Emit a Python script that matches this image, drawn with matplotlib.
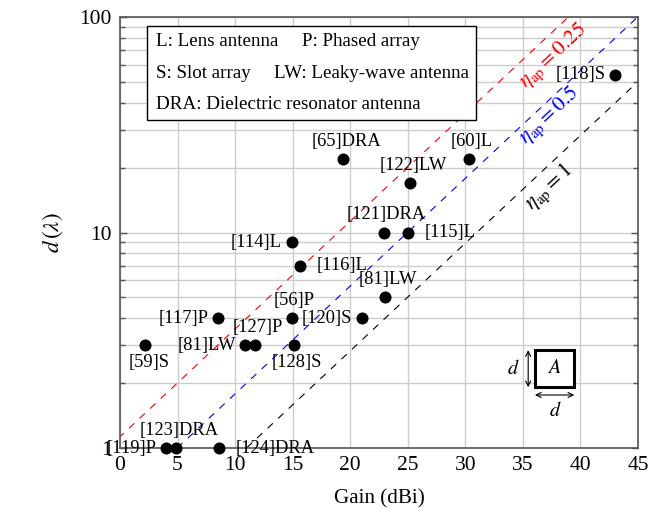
import numpy as np
import matplotlib
matplotlib.use("Agg")
import matplotlib.pyplot as plt
from matplotlib.patches import Rectangle

plt.rcParams['font.family'] = ['Liberation Serif', 'DejaVu Serif']
plt.rcParams['mathtext.fontset'] = 'stix'
plt.rcParams['font.size'] = 13.3

# ---------------- data ----------------
labels = ["[118]S", "[65]DRA", "[60]L", "[122]LW", "[121]DRA", "[115]L",
          "[114]L", "[116]L", "[81]LW", "[56]P", "[120]S", "[117]P",
          "[81]LW", "[127]P", "[128]S", "[59]S", "[119]P", "[123]DRA", "[124]DRA"]
gain_dbi = [43.0, 19.4, 30.3, 25.2, 22.9, 25.0,
            14.9, 15.6, 23.0, 14.9, 21.0, 8.5,
            10.9, 11.7, 15.1, 2.2, 4.0, 4.9, 8.6]
d_lambda = [54, 22, 22, 17, 10, 10,
            9, 7, 5, 4, 4, 4,
            3, 3, 3, 3, 1, 1, 1]
label_side = ["left", "above", "above", "above", "above", "right",
              "left", "right", "above", "above", "left", "left",
              "left", "above", "below", "below", "left", "above", "right"]

eta_values = [0.25, 0.5, 1.0]
eta_labels = ["0.25", "0.5", "1"]
eta_colors = ["#ff0000", "#0000ff", "#000000"]
eta_label_x = [37.65, 37.3, 37.3]
eta_label_d = [65.5, 34.8, 16.2]

x_ticks = [0, 5, 10, 15, 20, 25, 30, 35, 40, 45]
y_ticks = [1, 10, 100]
y_ticklabels = ["1", "10", "100"]

legend_lines = [("L: Lens antenna", "P: Phased array"),
                ("S: Slot array", "LW: Leaky-wave antenna"),
                ("DRA: Dielectric resonator antenna", None)]

# ---------------- figure ----------------
W, H = 657, 513
fig = plt.figure(figsize=(W / 100, H / 100), dpi=100)
ax = fig.add_axes([120 / W, 1 - 448 / H, 518 / W, 431 / H])
ax.set_xlim(0, 45)
ax.set_yscale('log')
ax.set_ylim(1, 100)

ax.set_xticks(x_ticks)
ax.set_xticklabels([str(t) for t in x_ticks], fontsize=15.5)
ax.set_yticks(y_ticks)
ax.set_yticklabels(y_ticklabels, fontsize=15.5)
ax.yaxis.set_minor_locator(matplotlib.ticker.LogLocator(base=10, subs=np.arange(2, 10)))
ax.yaxis.set_minor_formatter(matplotlib.ticker.NullFormatter())

gcol = '#cccccc'
ax.grid(True, which='major', axis='both', color=gcol, lw=1.0)
ax.grid(True, which='minor', axis='y', color=gcol, lw=1.0)
ax.set_axisbelow(True)

for s in ax.spines.values():
    s.set_color('#555555')
    s.set_linewidth(1.2)
ax.tick_params(which='both', direction='in', top=True, right=True, color='#555555')
ax.tick_params(which='major', length=5, width=1.0)
ax.tick_params(axis='y', which='major', pad=6)
ax.tick_params(axis='x', which='major', pad=6)
ax.tick_params(which='minor', length=3.5, width=1.0)
ax.tick_params(axis='x', which='both', top=False, bottom=False)

ax.text(0.5, -0.119, "Gain (dBi)", transform=ax.transAxes, ha='center', va='center',
        fontsize=15.2)
ax.text(-0.129, 0.5, r"$d\,(\lambda)$", transform=ax.transAxes, ha='center', va='center',
        rotation=90, fontsize=16.5)

# efficiency lines
dd = np.logspace(0, 2, 200)
for eta, col in zip(eta_values, eta_colors):
    g = 10 * np.log10(4 * np.pi) + 20 * np.log10(eta) + 20 * np.log10(dd)
    ax.plot(g, dd, color=col, lw=0.8, linestyle=(0, (6.5, 6.5)), zorder=2)

# rotation angle of lines in display space
fig.canvas.draw()
p1 = ax.transData.transform((10, 10 ** 0.5))
p2 = ax.transData.transform((30, 10 ** 1.5))
ang = np.degrees(np.arctan2(p2[1] - p1[1], p2[0] - p1[0]))

for lab, col, lx, ld in zip(eta_labels, eta_colors, eta_label_x, eta_label_d):
    ax.text(lx, ld, r"$\eta_{\mathrm{ap}} = " + lab + "$", color=col, rotation=ang,
            rotation_mode='anchor', ha='center', va='center', fontsize=15.5, zorder=3)

# points
ax.scatter(gain_dbi, d_lambda, s=75, color='black', zorder=5, clip_on=False, linewidths=0)

offsets = {"above": (2.2, 12.6, 'center', 'center'),
           "below": (2.4, -12.5, 'center', 'center'),
           "left": (-6.8, 0, 'right', 'center'),
           "right": (12.2, 0, 'left', 'center')}
for lab, x, y, side in zip(labels, gain_dbi, d_lambda, label_side):
    dx, dy, ha, va = offsets[side]
    ax.annotate(lab, (x, y), xytext=(dx, dy), textcoords='offset points',
                ha=ha, va=va, zorder=6, annotation_clip=False)

# legend box
ax.add_patch(Rectangle((0.0527, 0.761), 0.687 - 0.0527, 0.978 - 0.761,
                       transform=ax.transAxes, facecolor='white', edgecolor='black',
                       lw=1.0, zorder=7))
legend_y = [0.944, 0.869, 0.796]
second_x = [0.351, 0.298, None]
for (a, b), yy, sx in zip(legend_lines, legend_y, second_x):
    ax.text(0.0695, yy, a, transform=ax.transAxes, ha='left', va='center', zorder=8,
            fontsize=13.7)
    if b is not None:
        ax.text(sx, yy, b, transform=ax.transAxes, ha='left', va='center', zorder=8,
                fontsize=13.7)

# aperture inset
ax.add_patch(Rectangle((0.801, 0.141), 0.877 - 0.801, 0.227 - 0.141,
                       transform=ax.transAxes, facecolor='white', edgecolor='black',
                       lw=2.2, zorder=7))
ax.text(0.839, 0.184, r"$A$", transform=ax.transAxes, ha='center', va='center',
        fontsize=14.5, zorder=8)
ax.annotate("", xy=(0.788, 0.141), xytext=(0.788, 0.227), xycoords='axes fraction',
            arrowprops=dict(arrowstyle='<->', lw=0.8, color='black', shrinkA=0, shrinkB=0,
                            mutation_scale=9), zorder=8)
ax.annotate("", xy=(0.801, 0.123), xytext=(0.877, 0.123), xycoords='axes fraction',
            arrowprops=dict(arrowstyle='<->', lw=0.8, color='black', shrinkA=0, shrinkB=0,
                            mutation_scale=9), zorder=8)
ax.text(0.759, 0.181, r"$d$", transform=ax.transAxes, ha='center', va='center',
        fontsize=14.5, zorder=8)
ax.text(0.840, 0.084, r"$d$", transform=ax.transAxes, ha='center', va='center',
        fontsize=14.5, zorder=8)

fig.savefig("out.png", dpi=100)
